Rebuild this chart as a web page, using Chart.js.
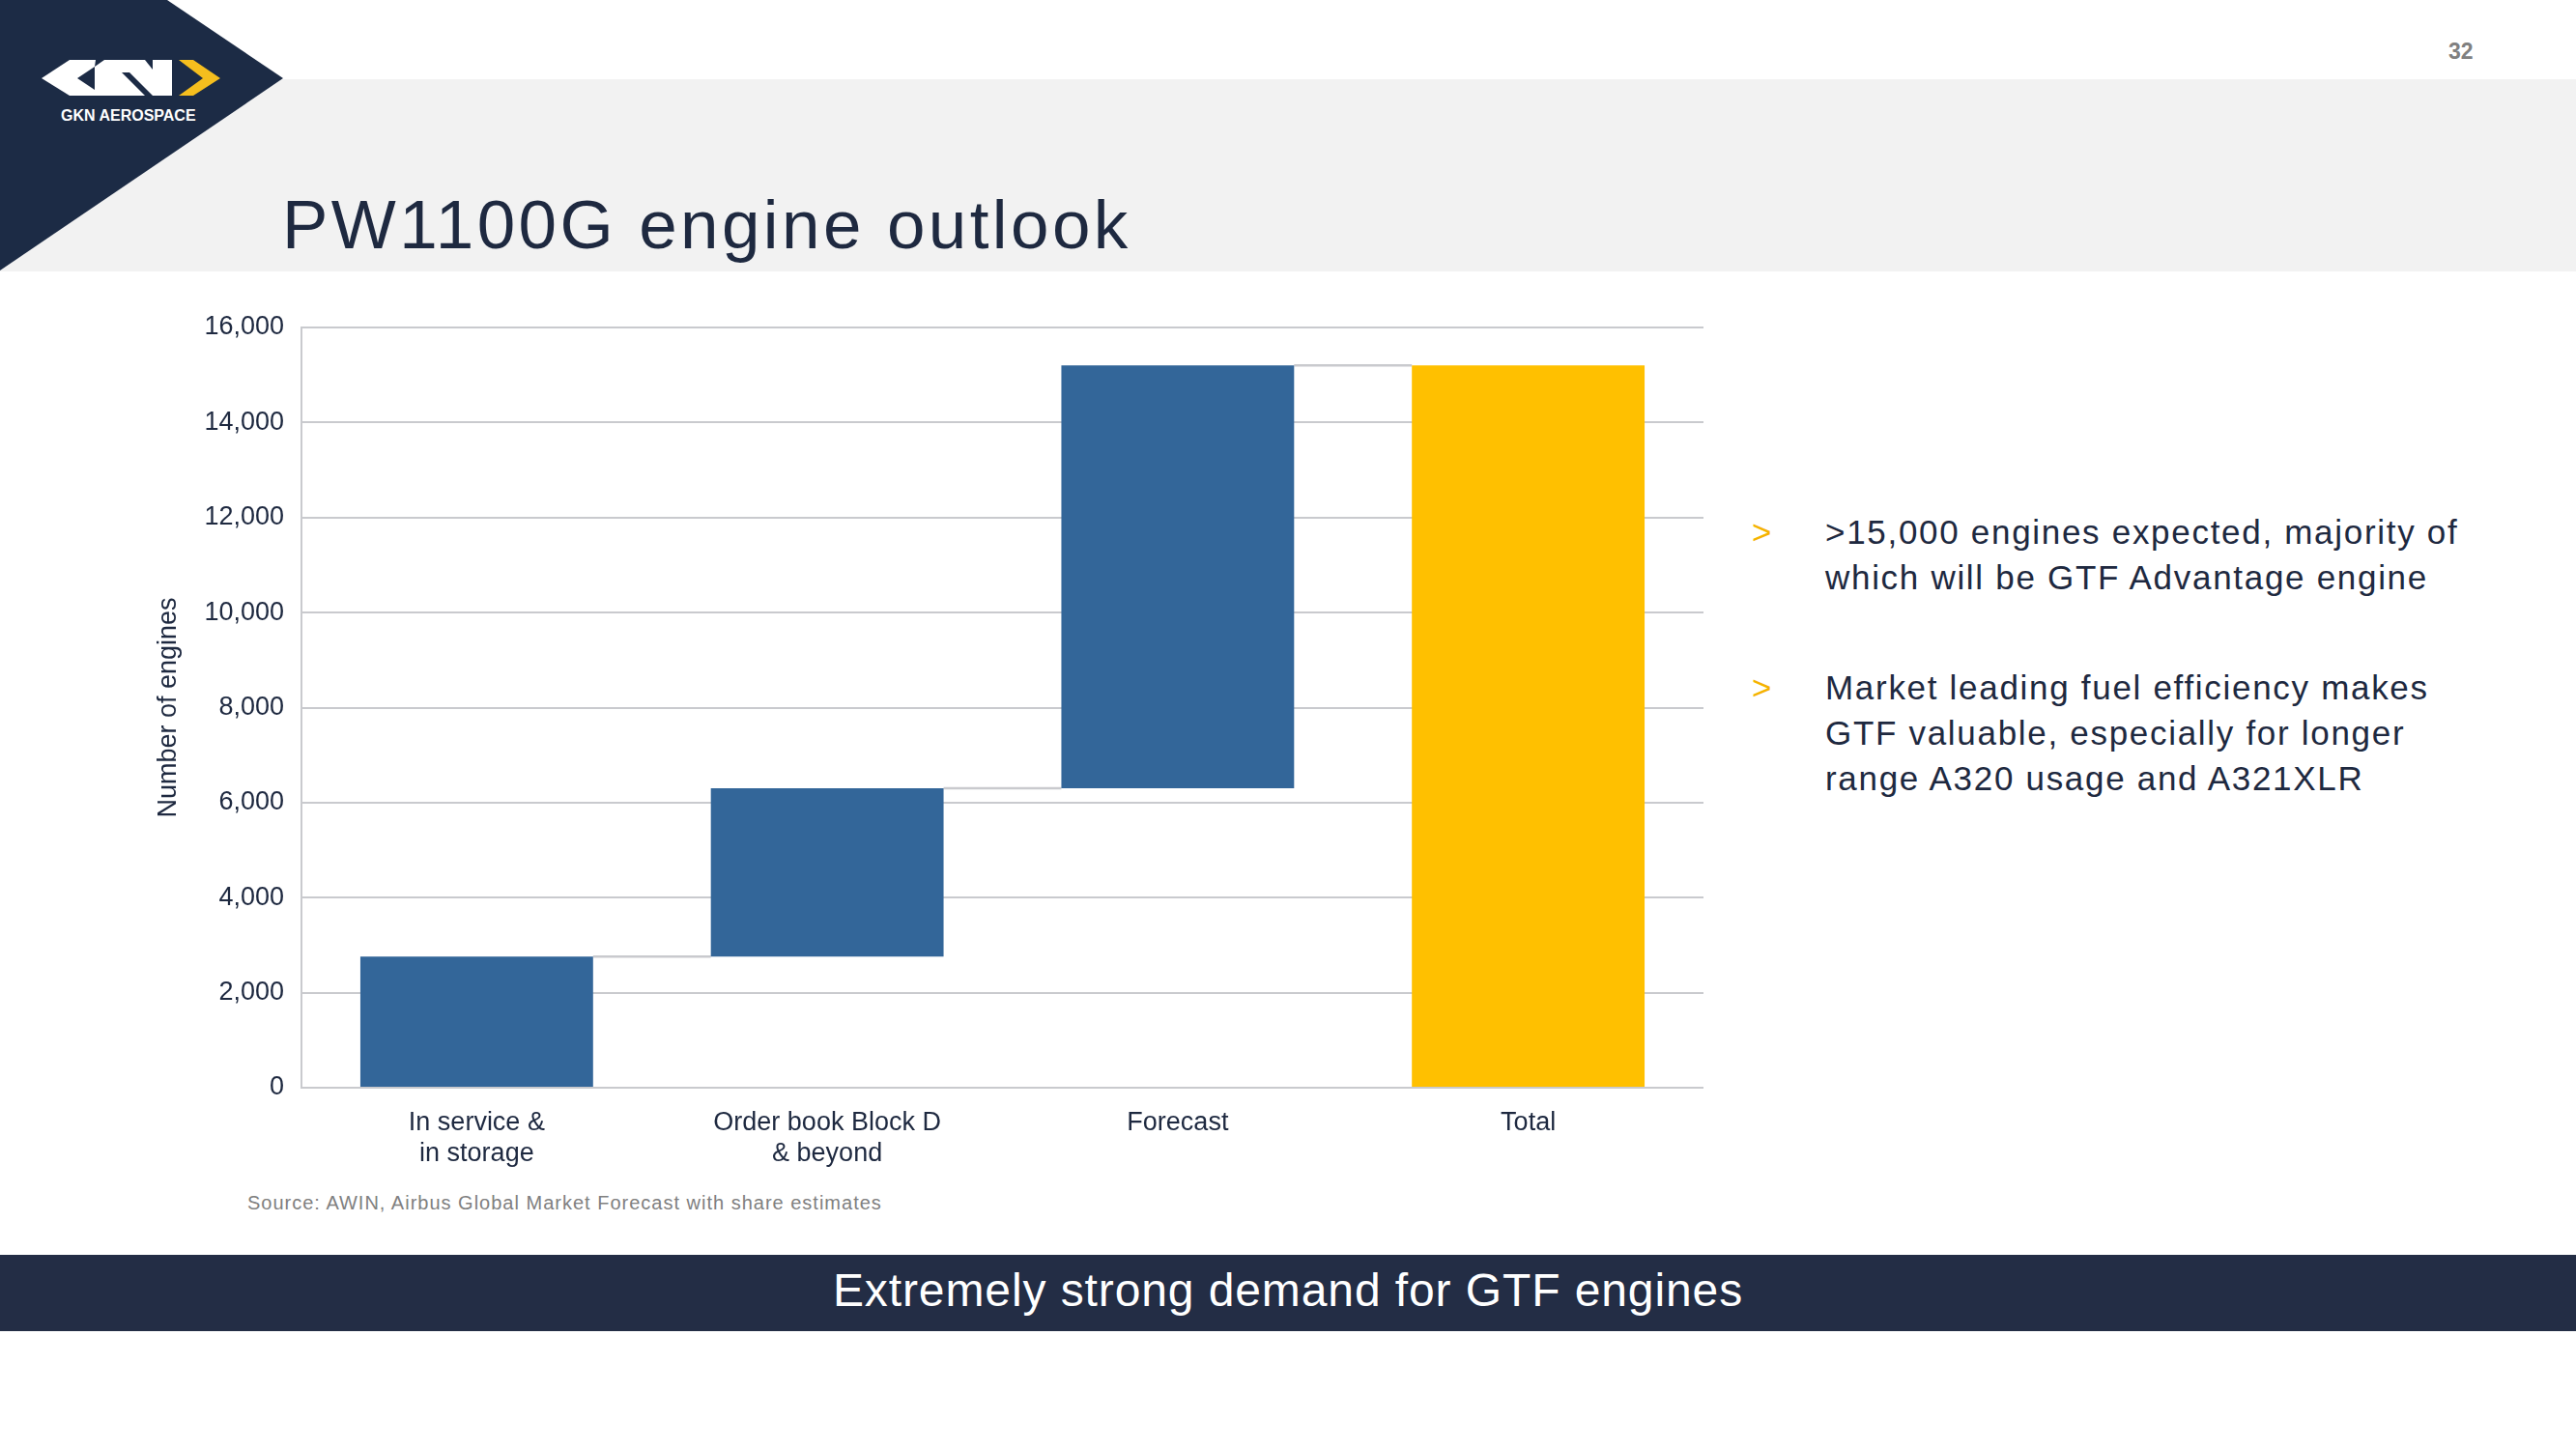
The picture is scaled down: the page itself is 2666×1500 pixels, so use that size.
<!DOCTYPE html>
<html>
<head>
<meta charset="utf-8">
<script src="https://cdn.jsdelivr.net/npm/chart.js@4.4.0/dist/chart.umd.min.js"></script>
<style>
html,body{margin:0;padding:0;}
body{width:2666px;height:1500px;position:relative;background:#ffffff;overflow:hidden;font-family:"Liberation Sans",Arial,sans-serif;color:#1e2940;}
.band{position:absolute;left:0;top:82px;width:2666px;height:199px;background:#f2f2f2;}
.logo{position:absolute;left:0;top:0;}
.pagenum{position:absolute;left:2534px;top:42px;font-size:23px;line-height:23px;font-weight:bold;color:#808080;}
.title{position:absolute;left:292px;top:197px;font-size:71px;line-height:71px;letter-spacing:3.4px;color:#1e2940;white-space:nowrap;}
.bullet{position:absolute;left:1813px;font-size:35px;line-height:47px;letter-spacing:1.7px;white-space:nowrap;color:#1e2940;}
.bullet .mk{position:absolute;left:0;top:0;color:#F5B300;}
.bullet .tx{position:absolute;left:76px;top:0;}
.source{position:absolute;left:256px;top:1235px;font-size:20px;line-height:20px;letter-spacing:1px;color:#808080;white-space:nowrap;}
.footer{position:absolute;left:0;top:1299px;width:2666px;height:79px;background:#232d45;}
.footer .ft{position:absolute;left:0;top:13px;width:2666px;text-align:center;font-size:48px;line-height:48px;letter-spacing:0.9px;color:#ffffff;white-space:nowrap;}
#wrap{position:absolute;left:140px;top:301px;width:1660px;height:930px;}
</style>
</head>
<body>
<div class="band"></div>
<svg class="logo" width="300" height="285" viewBox="0 0 300 285">
  <polygon points="0,0 173,0 293,81 0,280" fill="#1c2b45"/>
  <polygon points="43,81 72,62 178,62 178,99 72,99" fill="#ffffff"/>
  <polygon points="80,81 98,69 98,93" fill="#1c2b45"/>
  <polygon points="99,62 108,62 98,69" fill="#1c2b45"/>
  <polygon points="126,75 134,75 158,99 150,99" fill="#1c2b45"/>
  <polygon points="150,62 158,62 158,72" fill="#1c2b45"/>
  <polygon points="185,62 200,62 228,81 200,99 185,99 210,81" fill="#F5BE1E"/>
  <text x="63" y="125" font-family="Liberation Sans, Arial, sans-serif" font-weight="bold" font-size="16" fill="#ffffff">GKN AEROSPACE</text>
</svg>
<div class="pagenum">32</div>
<div class="title">PW1100G engine outlook</div>

<div id="wrap"><canvas id="c" width="1660" height="930"></canvas></div>

<div class="bullet" style="top:527px;"><span class="mk">&gt;</span><span class="tx">&gt;15,000 engines expected, majority of<br>which will be GTF Advantage engine</span></div>
<div class="bullet" style="top:688px;"><span class="mk">&gt;</span><span class="tx">Market leading fuel efficiency makes<br>GTF valuable, especially for longer<br>range A320 usage and A321XLR</span></div>

<div class="source">Source: AWIN, Airbus Global Market Forecast with share estimates</div>
<div class="footer"><div class="ft">Extremely strong demand for GTF engines</div></div>

<script>
// ---- data ----
const categories = [["In service &", "in storage"], ["Order book Block D", "& beyond"], "Forecast", "Total"];
const barBottoms = [0, 2760, 6300, 0];
const barTops = [2760, 6300, 15200, 15200];
const barColors = ["#336699", "#336699", "#336699", "#FFC000"];
const yTickMin = 0;
const yTickMax = 16000;
const yTickStep = 2000;
const yAxisTitle = "Number of engines";

// ---- chart ----
const textColor = "#1e2940";
const gridColor = "#c9cace";
const floatingData = barBottoms.map((b, i) => [b, barTops[i]]);

const connectorPlugin = {
  id: "connectors",
  beforeDatasetsDraw(chart) {
    const meta = chart.getDatasetMeta(0);
    const ys = chart.scales.y;
    const ctx = chart.ctx;
    ctx.save();
    ctx.strokeStyle = gridColor;
    ctx.lineWidth = 2.5;
    for (let i = 0; i < meta.data.length - 1; i++) {
      const a = meta.data[i], b = meta.data[i + 1];
      const py = ys.getPixelForValue(barTops[i]);
      ctx.beginPath();
      ctx.moveTo(a.x + a.width / 2, py);
      ctx.lineTo(b.x - b.width / 2, py);
      ctx.stroke();
    }
    ctx.restore();
  }
};

new Chart(document.getElementById("c"), {
  type: "bar",
  data: {
    labels: categories,
    datasets: [{
      data: floatingData,
      backgroundColor: barColors,
      borderWidth: 0,
      barPercentage: 0.664,
      categoryPercentage: 1.0
    }]
  },
  options: {
    responsive: false,
    animation: false,
    devicePixelRatio: 1,
    layout: { padding: { top: 38, right: 37, left: 0, bottom: 0 } },
    plugins: { legend: { display: false }, tooltip: { enabled: false } },
    scales: {
      x: {
        grid: { display: false, drawTicks: false },
        border: { display: false },
        ticks: {
          color: textColor,
          font: { family: "'Liberation Sans', Arial, sans-serif", size: 27 },
          padding: 20,
          maxRotation: 0,
          autoSkip: false
        },
        afterFit(s) { s.height = 105; }
      },
      y: {
        min: yTickMin,
        max: yTickMax,
        grid: { color: gridColor, lineWidth: 2, drawTicks: false },
        border: { display: true, color: gridColor, width: 2 },
        ticks: {
          stepSize: yTickStep,
          color: textColor,
          font: { family: "'Liberation Sans', Arial, sans-serif", size: 27 },
          padding: 18,
          callback: v => v.toLocaleString("en-US")
        },
        title: {
          display: true,
          text: yAxisTitle,
          color: textColor,
          font: { family: "'Liberation Sans', Arial, sans-serif", size: 27 },
          padding: { top: 18, bottom: 0 }
        },
        afterFit(s) { s.width = 172; }
      }
    }
  },
  plugins: [connectorPlugin]
});
</script>
</body>
</html>
